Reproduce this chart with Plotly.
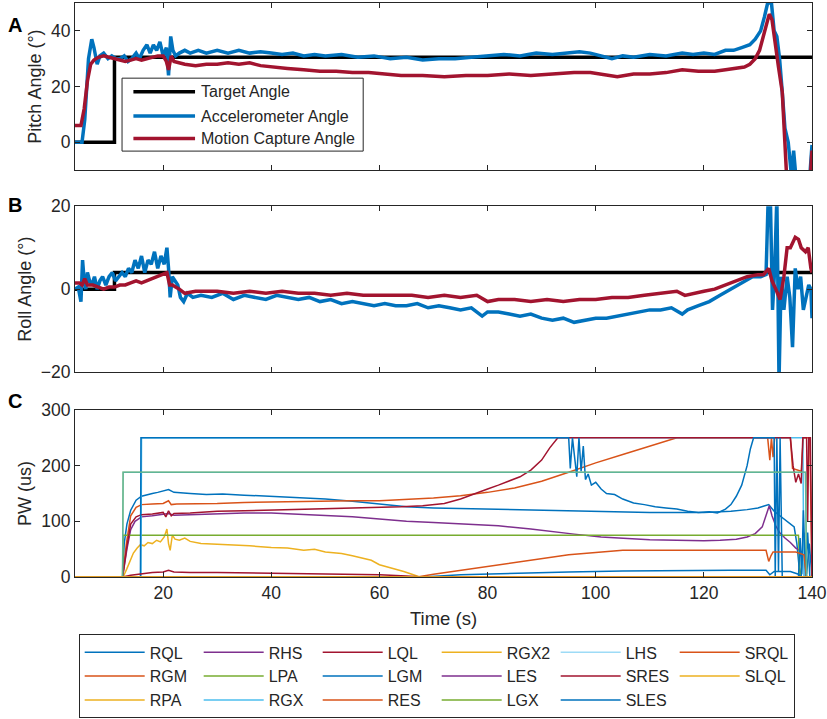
import plotly.graph_objects as go

# ---- panel A: pitch angle ----
t_tgt_p = [3.7, 11.0, 11.0, 140.0]
tgt_p = [0, 0, 30.5, 30.5]

t_acc_p = [3.7, 5.0, 5.5, 6.2, 6.8, 7.2, 7.8, 8.3, 9.0, 9.8, 10.5, 11.3, 12.0, 12.8, 13.5, 14.2,
           15.0, 15.6, 16.3, 17.0, 17.6, 18.2, 18.8, 19.4, 20.0, 20.6, 21.0, 21.4, 21.8, 22.3, 23.0,
           24.0, 25.0, 26.5, 28.0, 30.0, 32.0, 34.0, 36.0, 38.0, 40.0, 42.0, 44.0, 46.0, 48.0, 50.0,
           53.0, 56.0, 59.0, 62.0, 65.0, 68.0, 71.0, 74.0, 77.0, 80.0, 83.0, 86.0, 89.0, 92.0, 95.0,
           97.0, 99.0, 101.0, 103.0, 105.0, 107.0, 110.0, 113.0, 116.0, 118.0, 120.0, 122.0, 124.0,
           125.5, 127.0, 128.5, 129.5, 130.5, 131.2, 131.8, 132.5, 133.0, 133.5, 134.0, 134.5, 135.0,
           135.6, 136.2, 136.6, 137.0, 137.6, 139.6, 140.0]
acc_p = [0, 0, 8, 30, 37, 34, 28, 31, 32, 30, 31, 30, 30, 31, 29, 30,
         32, 30, 33, 35, 32, 35, 33, 36, 31, 34, 24, 38, 33, 31, 32,
         33, 32, 33, 32, 33, 32, 33, 32, 32.5, 32, 31.5, 32, 31, 31.5, 31,
         31.5, 30.5, 31, 30, 30.5, 29.5, 30, 30, 30.5, 31, 31.5, 31, 32, 31.5, 32,
         32.5, 32, 31, 30, 31, 30.5, 31.5, 31, 32, 31.5, 32, 31.5, 33,
         33, 34, 35, 37, 40, 45, 50, 50, 40, 38, 30, 18, 5,
         0, -12, -3, -12, -12, -12, -1]

t_mc_p = [3.7, 4.8, 5.4, 6.0, 6.6, 7.2, 8.0, 9.0, 10.0, 11.0, 12.0, 13.0, 14.0, 15.0, 16.0, 17.0,
          18.0, 19.0, 20.0, 20.6, 21.0, 21.5, 22.0, 23.0, 24.0, 26.0, 28.0, 30.0, 32.0, 34.0, 36.0,
          38.0, 40.0, 43.0, 46.0, 49.0, 52.0, 55.0, 58.0, 61.0, 64.0, 68.0, 72.0, 76.0, 80.0, 84.0,
          88.0, 92.0, 96.0, 99.0, 102.0, 104.0, 107.0, 110.0, 113.0, 116.0, 119.0, 122.0, 124.0,
          126.0, 127.5, 128.5, 129.5, 130.3, 131.0, 131.6, 132.1, 132.6, 133.2, 133.8, 134.5, 135.3,
          139.7, 140.0]
mc_p = [6, 6, 12, 22, 28, 29.5, 30.5, 31, 30.5, 30, 29.5, 29, 29.5, 30, 29.5, 30,
        30.5, 31, 31, 29, 26, 31, 29, 28.5, 28, 27.5, 28, 28, 28.5, 28, 28.5,
        27.5, 27, 26.5, 26, 25.5, 25.5, 25, 25, 24.5, 24, 24, 23.5, 24, 24, 24.5,
        24, 24.5, 25, 25, 24, 23.5, 24.5, 24.5, 25, 26, 25.5, 25.5, 26,
        26.5, 27, 28, 30, 33, 38, 43, 46, 44, 35, 27, 18, -12,
        -12, -3]

# ---- panel B: roll angle ----
t_tgt_r = [3.7, 11.0, 11.0, 140.0]
tgt_r = [0, 0, 4, 4]

t_acc_r = [3.7, 4.3, 4.8, 5.1, 5.4, 5.7, 6.0, 6.4, 6.8, 7.3, 7.8, 8.3, 8.8, 9.4, 10.0, 10.6, 11.2,
           11.8, 12.4, 13.0, 13.6, 14.2, 14.8, 15.4, 16.0, 16.6, 17.2, 17.8, 18.4, 19.0, 19.6, 20.2,
           20.7, 21.0, 21.3, 21.7, 22.2, 22.7, 23.2, 23.8, 24.5, 25.5, 27, 29, 31, 33, 35, 37, 39,
           41, 43, 45, 47, 49, 51, 53, 55, 57, 59, 61, 63, 65, 67, 69, 71, 73, 75, 77, 79, 80, 82,
           84, 86, 88, 90, 92, 94, 96, 98, 100, 102, 104, 106, 108, 110, 112, 114, 116, 117, 119,
           121, 123, 125, 127, 129, 130.5, 131.5, 131.9, 132.3, 132.7, 133.1, 133.5, 133.9, 134.3,
           134.8, 135.4, 135.9, 136.4, 136.9, 137.4, 137.9, 138.4, 138.9, 139.4, 139.8, 140.0]
acc_r = [0, 0.5, -3, 7, 2, 0, 4, 2, 1, 3, 0, 2, 3, 1, 3, 4, 2,
         3, 4, 3, 5, 4, 7, 5, 8, 4, 7, 6, 9, 5, 8, 6,
         10, 5, -2, 3, 2, 1, -2, -3, -1, -2, -1.5, -2, -1, -2.5, -1.5, -2, -2.5,
         -1.5, -2, -2.5, -2, -3, -2.5, -3.5, -3, -3.5, -4, -3.5, -4, -4, -3.5, -4.5, -4, -4.5, -5, -4.5, -6.5, -5.5, -5.5,
         -6, -6.5, -6, -7, -7.5, -7, -8, -7.5, -7, -7, -6.5, -6, -5.5, -5, -5, -4.5, -6, -5, -4,
         -3, -1.5, 0, 1.5, 3, 3, 3.5, 22, 22, -5, 5, 22, -22, 3,
         -5, 3, -2, -14, 5, 0, 3, -5, -2, 1, 0, -7]

t_mc_r = [3.7, 4.5, 5.0, 5.5, 6.0, 7.0, 8.0, 9.0, 10.0, 11.0, 12.0, 13.0, 14.0, 15.0, 16.0, 17.0,
          18.0, 19.0, 20.0, 20.7, 21.2, 21.7, 22.3, 23.0, 24.0, 26, 28, 30, 33, 36, 39, 42, 45, 48,
          51, 54, 57, 60, 63, 66, 69, 72, 75, 78, 80, 82, 85, 88, 91, 94, 97, 100, 103, 106, 109,
          112, 115, 116.5, 118, 120, 122, 124, 126, 128, 130, 131, 132, 132.6, 133.3, 134.1, 134.8,
          135.4, 136.0, 136.9, 137.5, 138.0, 138.8, 139.3, 139.8, 140.0]
mc_r = [1.5, 1.5, 1, 2.5, 1, 1, 0.5, 0, 0.5, 0.5, 1, 1, 1.5, 2, 1.5, 2,
        2.5, 3, 3.5, 4, 1, 1, 0.5, 0, -1, -0.5, -0.5, -0.5, -1, -0.5, -1, -0.5, -1, -1,
        -1.5, -1, -1.5, -1.5, -1.5, -1.5, -2, -1.5, -2, -1.5, -3, -2.5, -2.5, -3, -2.5, -3, -2.5, -2.5, -2, -2, -1.5,
        -1, -0.5, -1.5, -1, -0.5, 0, 1, 2, 3, 3.5, 3.5, 5, 2, 0, -2.5, 3,
        10, 10, 12.5, 12, 10, 9, 10, 5, 4]

# ---- panel C: pulse widths ----
t_RQL = [3.7, 12.5, 12.8, 13.3, 14.0, 15.0, 16.0, 17.0, 18.0, 19.0, 20.0, 21.0, 22.0, 23.0, 25, 28,
         31, 35, 40, 45, 50, 55, 60, 65, 70, 80, 90, 100, 110, 120, 125, 128, 130, 131, 132, 133,
         134, 135, 136, 136.7, 137.2, 137.6, 138.0, 138.5, 139.0, 139.5, 140]
RQL = [0, 0, 60, 95, 120, 138, 145, 148, 150, 152, 155, 157, 152, 151, 150, 148,
       149, 147, 145, 143, 140, 136, 131, 126, 124, 122, 120, 118, 116, 116, 118, 121, 124, 127, 130, 118,
       110, 102, 95, 90, 60, 20, 0, 80, 5, 60, 0]

t_RGM = [3.7, 12.5, 13.2, 14.0, 15.0, 16.0, 18.0, 20.0, 21.0, 21.5, 22.5, 25, 30, 35, 40, 45, 50,
         55, 60, 65, 70, 75, 80, 85, 90, 95, 100, 105, 110, 115, 131.8, 132.2, 132.5, 132.8, 133.1,
         133.4, 136.0, 136.4, 138.0, 138.4, 139.6, 140]
RGM = [0, 0, 60, 110, 125, 130, 131, 132, 137, 130, 131, 131, 132, 134, 135, 136, 136,
       137, 137, 139, 142, 146, 152, 160, 172, 188, 205, 220, 235, 250, 250, 210, 250, 215, 250,
       250, 250, 195, 190, 250, 250, 0]

t_RPA = [3.7, 12.6, 13.3, 14.0, 14.5, 15.2, 15.8, 16.5, 17.2, 18.0, 18.8, 19.5, 20.2, 20.7, 21.0,
         21.3, 21.7, 22.2, 23.0, 24.0, 25.0, 27, 30, 33, 36, 40, 43, 46, 48, 50, 53, 55, 57, 58.5,
         60, 61.5, 63, 64.5, 66, 67.5, 140]
RPA = [0, 0, 15, 30, 43, 52, 58, 56, 62, 60, 66, 63, 72, 86, 60,
       48, 75, 68, 66, 70, 64, 60, 59, 58, 56, 53, 52, 48, 50, 45, 42, 38, 34, 30,
       22, 18, 15, 10, 5, 0, 0]

t_RHS = [3.7, 12.5, 13.3, 14.0, 14.8, 16.0, 18.0, 20.0, 21.0, 22.0, 25, 30, 35, 40, 45, 50, 55, 60,
         65, 70, 75, 82, 88, 92, 96, 101, 105, 110, 115, 120, 123, 126, 128, 129.5, 130.8, 131.6,
         132.1, 132.6, 133.3, 134.0, 135.0, 136.0, 137.0, 138.0, 138.5, 139, 140]
RHS = [0, 0, 50, 85, 100, 108, 110, 112, 114, 111, 112, 114, 115, 115, 113, 111, 108, 104,
       100, 98, 95, 92, 86, 81, 77, 72, 70, 67, 66, 65, 66, 68, 72, 78, 90, 112,
       128, 110, 92, 80, 70, 62, 52, 46, 45, 0, 0]

t_LPA = [3.7, 12.5, 12.6, 137.5, 137.8, 140]
LPA = [0, 0, 75, 75, 0, 0]

t_RGX = [3.7, 15.9, 16.0, 138.3, 138.5, 140]
RGX = [0, 0, 250, 250, 0, 0]

t_LQL = [3.7, 12.5, 13.3, 14.0, 15.0, 16.0, 18.0, 20.0, 20.5, 21.0, 21.5, 22.0, 25, 30, 35, 40, 45,
         50, 55, 60, 64, 68, 72, 75, 78, 80, 82, 84, 86, 88, 90, 91.5, 93, 136.0, 136.5, 137.0,
         137.5, 138.0, 138.3, 139.0, 139.2, 139.4, 139.7, 140]
LQL = [0, 0, 55, 95, 108, 112, 113, 116, 108, 119, 110, 114, 115, 118, 119, 120, 121,
       122, 123, 124, 126, 128, 132, 140, 150, 158, 165, 172, 180, 192, 210, 232, 250, 250, 200, 170,
       185, 168, 250, 250, 100, 250, 250, 0]

t_LGM = [3.7, 15.8, 15.9, 95.0, 95.3, 95.7, 96.1, 96.5, 96.9, 97.3, 97.7, 98.1, 98.6, 99.2, 100,
         101, 102, 103.5, 105, 107, 109, 111, 113, 115, 117, 119, 121, 122.5, 124, 125, 126, 127,
         128, 128.6, 129.2, 133.0, 133.2, 133.5, 133.8, 134.1, 134.5, 137.5, 137.8, 138.1, 138.4,
         138.8, 139.2, 139.6, 140]
LGM = [0, 0, 250, 250, 195, 250, 215, 180, 250, 190, 235, 175, 185, 165, 170,
       158, 150, 148, 140, 133, 130, 126, 124, 122, 118, 116, 117, 115, 122, 130, 145, 165,
       200, 230, 250, 250, 0, 250, 10, 250, 0, 0, 70, 5, 120,
       0, 80, 0, 0]

t_RES = [3.7, 67, 70, 75, 80, 85, 90, 95, 100, 105, 131.5, 132.0, 132.4, 132.8, 137, 138.5, 139, 140]
RES = [0, 0, 5, 12, 20, 27, 34, 40, 44, 48, 48, 28, 38, 45, 45, 40, 0, 0]

t_RGX2 = [3.7, 140]
RGX2 = [0, 0]

t_LES = [3.7, 140]
LES = [0, 0]

t_LGX = [3.7, 12.5, 12.6, 138.8, 139.0, 140]
LGX = [0, 0, 188, 188, 0, 0]

t_LHS = [3.7, 12.5, 12.6, 138.8, 139.0, 140]
LHS = [0, 0, 188, 188, 0, 0]

t_SRES = [3.7, 12.5, 14, 16, 18, 20, 21, 22, 25, 30, 40, 50, 55, 60, 65, 68, 140]
SRES = [0, 0, 3, 6, 8, 9, 12, 9, 8, 8, 7, 6, 5, 4, 2, 0, 0]

t_SLES = [3.7, 68, 75, 85, 95, 105, 115, 125, 131.5, 132.2, 133, 136, 137.5, 138, 140]
SLES = [0, 0, 4, 7, 9, 11, 12, 12, 12, 4, 10, 10, 5, 0, 0]

t_SRQL = [3.7, 140]
SRQL = [0, 0]

t_SLQL = [3.7, 140]
SLQL = [0, 0]

# MATLAB default color order
BLUE, ORANGE, YELLOW = "#0072BD", "#D95319", "#EDB120"
PURPLE, GREEN, LBLUE, DRED = "#7E2F8E", "#77AC30", "#4DBEEE", "#A2142F"

# drawing order (column-major legend in the original)
pw_series = [
    ("RQL", t_RQL, RQL, BLUE), ("RGM", t_RGM, RGM, ORANGE), ("RPA", t_RPA, RPA, YELLOW),
    ("RHS", t_RHS, RHS, PURPLE), ("LPA", t_LPA, LPA, GREEN), ("RGX", t_RGX, RGX, LBLUE),
    ("LQL", t_LQL, LQL, DRED), ("LGM", t_LGM, LGM, BLUE), ("RES", t_RES, RES, ORANGE),
    ("RGX2", t_RGX2, RGX2, YELLOW), ("LES", t_LES, LES, PURPLE), ("LGX", t_LGX, LGX, GREEN),
    ("LHS", t_LHS, LHS, "rgba(77,190,238,0.55)"), ("SRES", t_SRES, SRES, DRED),
    ("SLES", t_SLES, SLES, BLUE), ("SRQL", t_SRQL, SRQL, ORANGE), ("SLQL", t_SLQL, SLQL, YELLOW),
]
legend_rows = ["RQL", "RHS", "LQL", "RGX2", "LHS", "SRQL",
               "RGM", "LPA", "LGM", "LES", "SRES", "SLQL",
               "RPA", "RGX", "RES", "LGX", "SLES"]

FONT = "Liberation Sans, Arial, sans-serif"
INK = "#262626"

fig = go.Figure()

for x, y, name, col in [(t_tgt_p, tgt_p, "Target Angle", "black"),
                        (t_acc_p, acc_p, "Accelerometer Angle", BLUE),
                        (t_mc_p, mc_p, "Motion Capture Angle", DRED)]:
    assert len(x) == len(y), name
    fig.add_trace(go.Scatter(x=x, y=y, mode="lines", line=dict(color=col, width=3.5),
                             xaxis="x", yaxis="y", showlegend=False))

for x, y, col in [(t_tgt_r, tgt_r, "black"), (t_acc_r, acc_r, BLUE), (t_mc_r, mc_r, DRED)]:
    assert len(x) == len(y)
    fig.add_trace(go.Scatter(x=x, y=y, mode="lines", line=dict(color=col, width=3.5),
                             xaxis="x2", yaxis="y2", showlegend=False))

for name, x, y, col in pw_series:
    assert len(x) == len(y), name
    fig.add_trace(go.Scatter(x=x, y=y, mode="lines", name=name, line=dict(color=col, width=1.5),
                             xaxis="x3", yaxis="y3", legendrank=legend_rows.index(name) + 1))

# legend of panel A drawn as a box with sample lines
legA = [("Target Angle", "black"), ("Accelerometer Angle", BLUE), ("Motion Capture Angle", DRED)]
fig.add_shape(type="rect", xref="x", yref="y", x0=12.4, x1=57, y0=-3.2, y1=23,
              line=dict(color=INK, width=1), fillcolor="white", layer="above")
for i, (lab, col) in enumerate(legA):
    yy = [18.1, 9.4, 1.3][i]
    fig.add_shape(type="line", xref="x", yref="y", x0=14.5, x1=25.9, y0=yy, y1=yy,
                  line=dict(color=col, width=3.5), layer="above")
    fig.add_annotation(x=26.6, y=yy, xref="x", yref="y", text=lab, showarrow=False,
                       xanchor="left", font=dict(size=16, color=INK, family=FONT))

axis_common = dict(showline=True, linecolor=INK, linewidth=1, mirror="ticks", ticks="inside",
                   ticklen=5, tickcolor=INK, showgrid=False, zeroline=False,
                   tickfont=dict(size=17.5, color=INK, family=FONT))
xr = [3.7, 140]
xt = [20, 40, 60, 80, 100, 120, 140]
fig.update_layout(
    width=827, height=719,
    margin=dict(l=75, r=15, t=3, b=142, autoexpand=False),
    plot_bgcolor="white", paper_bgcolor="white",
    font=dict(family=FONT, color=INK),
    xaxis=dict(axis_common, domain=[0, 1], range=xr, tickvals=xt, showticklabels=False, anchor="y"),
    xaxis2=dict(axis_common, domain=[0, 1], range=xr, tickvals=xt, showticklabels=False, anchor="y2"),
    xaxis3=dict(axis_common, domain=[0, 1], range=xr, tickvals=xt, anchor="y3",
                title=dict(text="Time (s)", font=dict(size=18.5, color=INK), standoff=10)),
    yaxis=dict(axis_common, domain=[0.709, 1.0], range=[-10, 50], tickvals=[0, 20, 40],
               anchor="x", title=dict(text="Pitch Angle (°)", font=dict(size=18, color=INK), standoff=4)),
    yaxis2=dict(axis_common, domain=[0.357, 0.646], range=[-20, 20], tickvals=[-20, 0, 20],
                anchor="x2", title=dict(text="Roll Angle (°)", font=dict(size=18, color=INK), standoff=4)),
    yaxis3=dict(axis_common, domain=[0, 0.291], range=[0, 300], tickvals=[0, 100, 200, 300],
                anchor="x3", title=dict(text="PW (us)", font=dict(size=18, color=INK), standoff=4)),
    legend=dict(orientation="h", x=0.005, xanchor="left", y=-0.1, yanchor="top",
                entrywidth=44, entrywidthmode="pixels", bordercolor=INK, borderwidth=1,
                bgcolor="white", font=dict(size=16, color=INK, family=FONT),
                tracegroupgap=0, itemwidth=60),
    showlegend=True,
)

for lab, yp in [("A", 0.984), ("B", 0.648), ("C", 0.284)]:
    fig.add_annotation(x=-0.081, y=yp, xref="paper", yref="paper", text="<b>%s</b>" % lab,
                       xanchor="center", showarrow=False, font=dict(size=20, color="black", family=FONT))

fig.write_html("out.html", config={"displayModeBar": False},
               post_script="document.body.style.margin='0';")
